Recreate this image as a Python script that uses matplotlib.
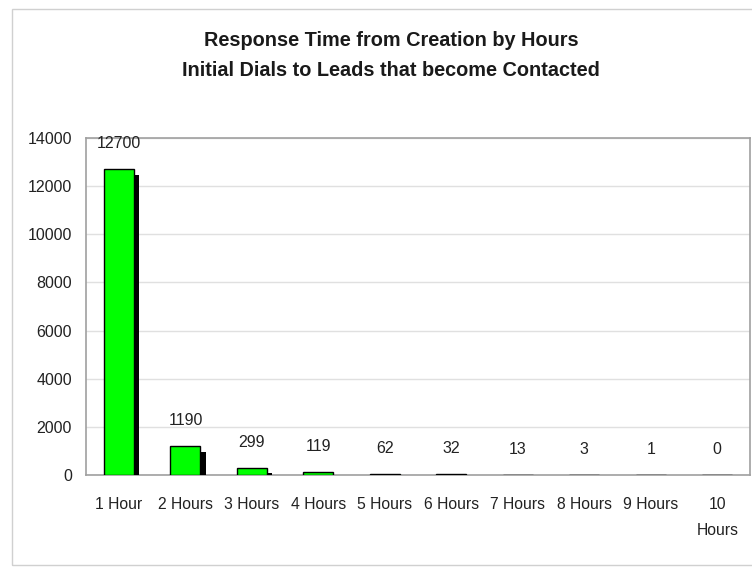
import matplotlib.pyplot as plt
import matplotlib.patheffects as pe
from matplotlib.patches import Rectangle

labels = ["1 Hour", "2 Hours", "3 Hours", "4 Hours", "5 Hours",
          "6 Hours", "7 Hours", "8 Hours", "9 Hours", "10\nHours"]
counts = [12700, 1190, 299, 119, 62, 32, 13, 3, 1, 0]
yticks = [0, 2000, 4000, 6000, 8000, 10000, 12000, 14000]

plt.rcParams['font.family'] = ['Liberation Sans', 'DejaVu Sans']

fig = plt.figure(figsize=(7.52, 5.67), dpi=100)
fig.patches.append(Rectangle((0.016, 0.004), 1.2, 0.98, transform=fig.transFigure,
                             fill=False, edgecolor='#d0d0d0', linewidth=1))
ax = fig.add_axes([0.114, 0.162, 0.884, 0.595])

x = range(len(counts))
bars = ax.bar(x, counts, width=0.45, color='#00ff00', edgecolor='black', linewidth=1,
              zorder=3)
for b in bars:
    b.set_path_effects([pe.SimplePatchShadow(offset=(4, -4), shadow_rgbFace='black', alpha=1),
                        pe.Normal()])

for xi, v in zip(x, counts):
    ax.annotate(str(v), (xi, v), xytext=(0, 13), textcoords='offset points',
                ha='center', va='bottom', fontsize=11.5, color='#222222')

ax.set_xlim(-0.5, len(counts) - 0.5)
ax.set_ylim(0, 14000)
ax.set_yticks(yticks)
ax.set_yticklabels([str(t) for t in yticks], fontsize=11.5, color='#222222')
ax.set_xticks(list(x))
ax.set_xticklabels(labels, fontsize=11.3, color='#222222', va='top', linespacing=1.9)
ax.tick_params(axis='x', length=0, pad=16)
ax.tick_params(axis='y', length=0, pad=10)
ax.grid(axis='y', color='#e0e0e0', linewidth=1, zorder=0)
for s in ax.spines.values():
    s.set_color('#a0a0a0')
    s.set_linewidth(1.2)

fig.text(0.52, 0.928, "Response Time from Creation by Hours", ha='center', va='center',
         fontsize=14.3, fontweight='bold', color='#1a1a1a')
fig.text(0.52, 0.875, "Initial Dials to Leads that become Contacted", ha='center', va='center',
         fontsize=14.3, fontweight='bold', color='#1a1a1a')

fig.savefig("out.png", dpi=100)
